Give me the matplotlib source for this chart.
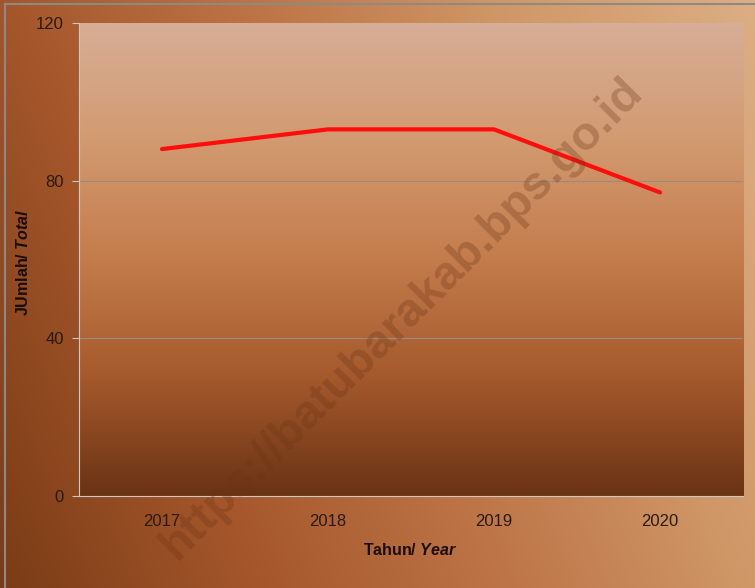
import matplotlib
matplotlib.use("Agg")
from matplotlib import pyplot as plt
from matplotlib.colors import LinearSegmentedColormap
import numpy as np

years = ["2017", "2018", "2019", "2020"]
totals = [88, 93, 93, 77]
y_ticks = [0, 40, 80, 120]

plt.rcParams["font.family"] = ["Liberation Sans", "DejaVu Sans"]
plt.rcParams["mathtext.fontset"] = "custom"
plt.rcParams["mathtext.rm"] = "Liberation Sans"
plt.rcParams["mathtext.bfit"] = "Liberation Sans:bold:italic"

fig = plt.figure(figsize=(7.55, 5.88), dpi=100)

# outer background: diagonal gradient dark brown (bottom-left) to light tan (right)
bg = fig.add_axes([0, 0, 1, 1], zorder=0)
gx, gy = np.meshgrid(np.linspace(0, 1, 300), np.linspace(0, 1, 300))
t = np.clip(0.75 * gx + 0.25 * gy, 0, 1)
outer_cmap = LinearSegmentedColormap.from_list(
    "outer", ["#7a3c16", "#a4562a", "#bd7446", "#d09868", "#dcae84"])
bg.imshow(t, cmap=outer_cmap, extent=[0, 1, 0, 1], origin="lower", aspect="auto")
bg.plot([0.0066, 0.0066], [0, 0.993], color="#8a8a8a", lw=1.5)
bg.plot([0.0066, 1], [0.993, 0.993], color="#8a8a8a", lw=1.5)
bg.set_xlim(0, 1)
bg.set_ylim(0, 1)
bg.axis("off")

ax = fig.add_axes([0.1046, 0.1565, 0.8795, 0.8045], zorder=1)
ax.patch.set_alpha(0)

# plot area vertical gradient, light at top, dark at bottom
inner_cmap = LinearSegmentedColormap.from_list(
    "inner", ["#d7ae96", "#d29a70", "#c47c4c", "#a5592c", "#6a3314"])
grad = np.linspace(0, 1, 256).reshape(-1, 1)
ax.imshow(grad, cmap=inner_cmap, extent=[-0.5, 3.5, 0, 120], origin="upper",
          aspect="auto", zorder=0)

x = np.arange(len(years))
ax.plot(x, totals, color="#ff0d0d", lw=3, zorder=3, solid_capstyle="round")

ax.set_xlim(-0.5, 3.5)
ax.set_ylim(0, 120)
ax.set_yticks(y_ticks)
ax.set_xticks(x)
ax.set_xticklabels(years)
ax.tick_params(axis="y", length=5, color="#c8c8c8", labelsize=12, labelcolor="#2a1a10", pad=6)
ax.tick_params(axis="x", length=0, labelsize=12, labelcolor="#2a1a10", pad=13)
for v in [40, 80]:
    ax.axhline(v, color="#9a8a80", lw=0.8, zorder=1)

for s in ["top", "right"]:
    ax.spines[s].set_visible(False)
ax.spines["left"].set_color("#d0c8c0")
ax.spines["bottom"].set_color("#d0c8c0")

fig.text(0.031, 0.553, "JUmlah/ $\\mathbfit{Total}$", rotation=90, ha="center", va="center",
         fontsize=11.5, fontweight="bold", color="#1a0d05")
fig.text(0.543, 0.064, "Tahun/ $\\mathbfit{Year}$", ha="center", va="center",
         fontsize=11.5, fontweight="bold", color="#1a0d05")

# watermark
fig.text(0.532, 0.458, "https://batubarakab.bps.go.id", rotation=45, ha="center", va="center",
         fontsize=34, fontweight="bold", color="#6a3416", alpha=0.3, zorder=5)

fig.savefig("out.png", dpi=100)
